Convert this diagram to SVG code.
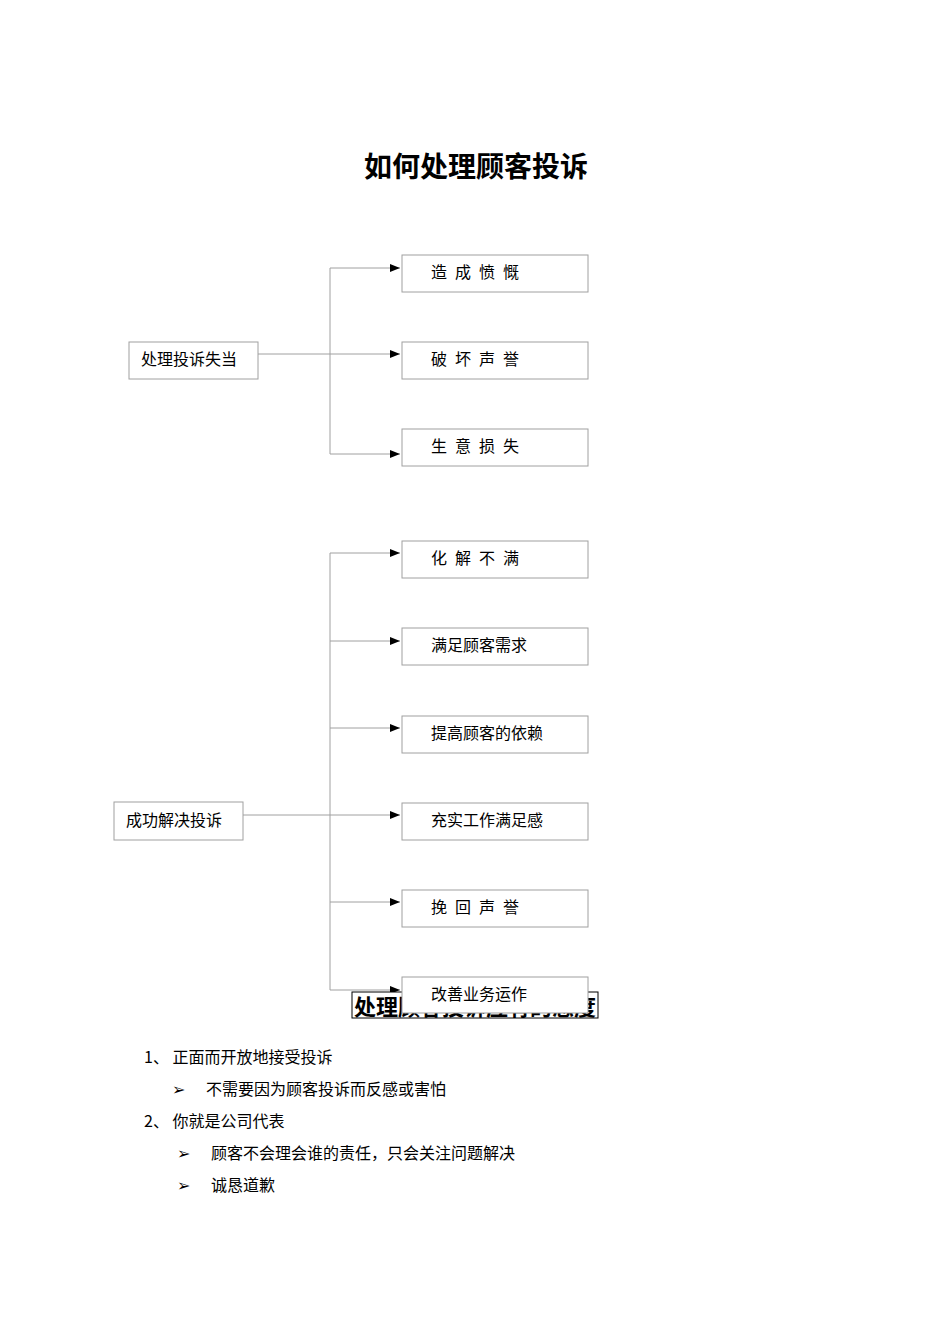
<svg xmlns="http://www.w3.org/2000/svg" width="950" height="1344" viewBox="0 0 950 1344">
<style>
text{font-family:"Noto Sans CJK SC","Liberation Serif",serif;fill:#000}
.b{fill:#fff;stroke:#a0a0a0;stroke-width:1}
.l{font-size:16px}
.s{letter-spacing:8px}
.c{fill:none;stroke:#a0a0a0;stroke-width:1}
</style>
<defs><marker id="a" markerWidth="10" markerHeight="8" refX="10" refY="4" orient="auto" markerUnits="userSpaceOnUse"><path d="M0,0L10,4L0,8Z" fill="#000"/></marker></defs>
<rect width="950" height="1344" fill="#fff"/>
<text x="476" y="177" font-size="28" text-anchor="middle" font-weight="bold">如何处理顾客投诉</text>
<g id="connectors">
<path class="c" d="M330,268V454"/>
<path class="c" d="M258,354H400" marker-end="url(#a)"/>
<path class="c" d="M330,268H400" marker-end="url(#a)"/>
<path class="c" d="M330,454H400" marker-end="url(#a)"/>
<path class="c" d="M330,553V990"/>
<path class="c" d="M243,815H400" marker-end="url(#a)"/>
<path class="c" d="M330,553H400" marker-end="url(#a)"/>
<path class="c" d="M330,641H400" marker-end="url(#a)"/>
<path class="c" d="M330,728H400" marker-end="url(#a)"/>
<path class="c" d="M330,902H400" marker-end="url(#a)"/>
<path class="c" d="M330,990H400" marker-end="url(#a)"/>
</g>
<g id="heading2"><rect x="352" y="992" width="246" height="26" fill="#fff" stroke="#000"/><text x="475" y="1015" font-size="22" text-anchor="middle" font-weight="bold" textLength="242">处理顾客投诉应有的态度</text></g>
<g id="n1"><rect class="b" x="129" y="342" width="129" height="37"/><text class="l" x="141" y="365">处理投诉失当</text></g>
<g id="n2"><rect class="b" x="402" y="255" width="186" height="37"/><text class="l s" x="431" y="278">造成愤慨</text></g>
<g id="n3"><rect class="b" x="402" y="342" width="186" height="37"/><text class="l s" x="431" y="365">破坏声誉</text></g>
<g id="n4"><rect class="b" x="402" y="429" width="186" height="37"/><text class="l s" x="431" y="452">生意损失</text></g>
<g id="n5"><rect class="b" x="114" y="802" width="129" height="38"/><text class="l" x="126" y="826">成功解决投诉</text></g>
<g id="n6"><rect class="b" x="402" y="541" width="186" height="37"/><text class="l s" x="431" y="564">化解不满</text></g>
<g id="n7"><rect class="b" x="402" y="628" width="186" height="37"/><text class="l" x="431" y="651">满足顾客需求</text></g>
<g id="n8"><rect class="b" x="402" y="716" width="186" height="37"/><text class="l" x="431" y="739">提高顾客的依赖</text></g>
<g id="n9"><rect class="b" x="402" y="803" width="186" height="37"/><text class="l" x="431" y="826">充实工作满足感</text></g>
<g id="n10"><rect class="b" x="402" y="890" width="186" height="37"/><text class="l s" x="431" y="913">挽回声誉</text></g>
<g id="n11"><rect class="b" x="402" y="977" width="186" height="36"/><text class="l" x="431" y="1000">改善业务运作</text></g>
<g id="list">
<text class="l" x="144" y="1063">1、 正面而开放地接受投诉</text>
<text class="l" x="172" y="1095">➢</text><text class="l" x="206" y="1095">不需要因为顾客投诉而反感或害怕</text>
<text class="l" x="144" y="1127">2、 你就是公司代表</text>
<text class="l" x="177" y="1159">➢</text><text class="l" x="211" y="1159">顾客不会理会谁的责任，只会关注问题解决</text>
<text class="l" x="177" y="1191">➢</text><text class="l" x="211" y="1191">诚恳道歉</text>
</g>
</svg>
